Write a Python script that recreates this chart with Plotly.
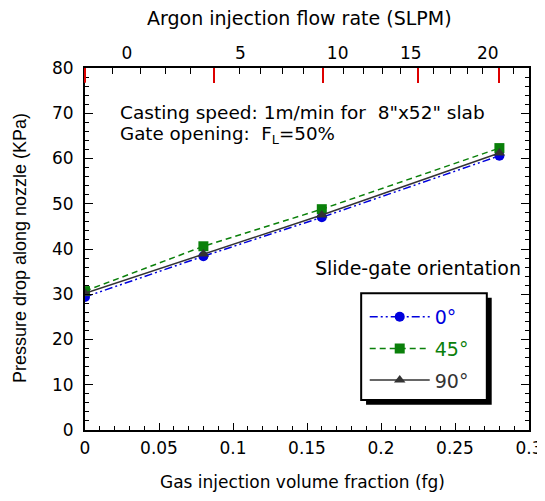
import plotly.graph_objects as go

# ---- data ----
fg = [0.0, 0.08, 0.16, 0.28]
p_0deg = [29.4, 38.4, 47.0, 60.6]
p_45deg = [30.7, 40.6, 48.8, 62.3]
p_90deg = [30.2, 38.9, 47.5, 61.2]
series_names = ["0°", "45°", "90°"]

# top axis (argon flow rate, SLPM) label positions on fg scale
flow_labels = ["0", "5", "10", "15", "20"]
flow_label_pos = [0.0284, 0.105, 0.1707, 0.2201, 0.2722]
flow_red_ticks = [0.0, 0.0874, 0.1605, 0.2248, 0.2797]
flow_minor_ticks = [0.0183, 0.0372, 0.0542, 0.0711, 0.1043, 0.1185, 0.1334, 0.1476,
                    0.1747, 0.1883, 0.2011, 0.2133, 0.2357, 0.2472, 0.2587, 0.2688, 0.2898]

FONT = "DejaVu Sans, Liberation Sans, Arial, sans-serif"
FONT_V = "Liberation Sans, Arial, Helvetica, sans-serif"
BLUE = "#0000dd"
GREEN = "#0a800a"
DARK = "#333333"
RED = "#dd0000"

fig = go.Figure()
fig.add_trace(go.Scatter(
    x=fg, y=p_0deg, mode="lines+markers",
    name=f"<span style='color:{BLUE}'>{series_names[0]}</span>",
    legendgroup="a",
    line=dict(color=BLUE, width=1.5, dash="8px,3px,2px,3px,2px,3px"),
    marker=dict(symbol="circle", size=10, color=BLUE)))
fig.add_trace(go.Scatter(
    x=fg, y=p_45deg, mode="lines+markers",
    name=f"<span style='color:{GREEN}'>{series_names[1]}</span>",
    legendgroup="b",
    line=dict(color=GREEN, width=1.5, dash="6px,4px"),
    marker=dict(symbol="square", size=10, color=GREEN)))
fig.add_trace(go.Scatter(
    x=fg, y=p_90deg, mode="lines+markers",
    name=f"<span style='color:{DARK}'>{series_names[2]}</span>",
    legendgroup="c",
    line=dict(color=DARK, width=1.5),
    marker=dict(symbol="triangle-up", size=10, color=DARK)))

# invisible traces to anchor the overlay top axes
for ax in ["x2", "x3", "x4"]:
    fig.add_trace(go.Scatter(x=[0, 0.3], y=[None, None], xaxis=ax, showlegend=False,
                             hoverinfo="skip"))

# the page body has an 8px margin, so the figure is offset by 8px
fig.update_layout(
    width=537, height=493,
    margin=dict(l=77, r=16, t=60, b=71, autoexpand=False),
    paper_bgcolor="white", plot_bgcolor="white",
    font=dict(family=FONT, size=17, color="black"),
    showlegend=True,
    legend=dict(x=0.63, y=0.365, xanchor="left", yanchor="top",
                bgcolor="rgba(0,0,0,0)", borderwidth=0,
                font=dict(size=19, family=FONT),
                traceorder="grouped", tracegroupgap=4, itemwidth=60),
    xaxis=dict(range=[0, 0.3], dtick=0.05, tick0=0, ticks="inside", ticklen=7,
               tickwidth=1.2, tickcolor="black", showgrid=False, zeroline=False,
               showline=True, linecolor="black", linewidth=2, automargin=False,
               minor=dict(dtick=0.01, ticks="inside", ticklen=4, tickcolor="black"),
               tickfont=dict(size=17), ticklabelstandoff=2),
    yaxis=dict(range=[0, 80], dtick=10, ticks="inside", ticklen=8, tickwidth=1.2,
               tickcolor="black", showgrid=False, zeroline=False, automargin=False,
               showline=True, linecolor="black", linewidth=2, mirror="ticks",
               minor=dict(dtick=2, ticks="inside", ticklen=4, tickcolor="black"),
               tickfont=dict(size=17), ticklabelstandoff=6),
    xaxis2=dict(overlaying="x", side="top", range=[0, 0.3], tickmode="array",
                tickvals=flow_label_pos, ticktext=flow_labels, ticks="",
                showgrid=False, zeroline=False, showline=True, linecolor="black",
                linewidth=2, tickfont=dict(size=17), automargin=False,
                ticklabelstandoff=0),
    xaxis3=dict(overlaying="x", side="top", range=[0, 0.3], tickmode="array",
                tickvals=flow_minor_ticks, ticks="inside", ticklen=6, tickcolor="black",
                tickwidth=1.2, showticklabels=False, showgrid=False, zeroline=False,
                showline=False, automargin=False),
    xaxis4=dict(overlaying="x", side="top", range=[0, 0.3], tickmode="array",
                tickvals=flow_red_ticks, ticks="inside", ticklen=15, tickcolor=RED,
                tickwidth=1.5, showticklabels=False, showgrid=False, zeroline=False,
                showline=False, automargin=False),
)

# legend frame with drop shadow (paper coordinates)
fig.add_shape(type="rect", xref="paper", yref="paper", x0=0.633, x1=0.916, y0=0.070,
              y1=0.365, fillcolor="black", line=dict(width=0), layer="below")
fig.add_shape(type="rect", xref="paper", yref="paper", x0=0.622, x1=0.905, y0=0.083,
              y1=0.378, fillcolor="white", line=dict(color="black", width=2), layer="below")
# red corner tick at the top-left (drawn over the y-axis line)
fig.add_shape(type="line", xref="paper", yref="paper", x0=0, x1=0, y0=1, y1=0.959,
              line=dict(color=RED, width=2), layer="above")

# axis titles
fig.add_annotation(xref="paper", yref="paper", x=0.484, y=1.138, showarrow=False,
                   xanchor="center", yanchor="middle",
                   text="Argon injection flow rate (SLPM)", font=dict(size=19))
fig.add_annotation(xref="paper", yref="paper", x=0.489, y=-0.144, showarrow=False,
                   xanchor="center", yanchor="middle",
                   text="Gas injection volume fraction (fg)", font=dict(size=17))
fig.add_annotation(xref="paper", yref="paper", x=-0.146, y=0.503, showarrow=False,
                   xanchor="center", yanchor="middle", textangle=-90,
                   text="Pressure drop along nozzle (KPa)", font=dict(size=18, family=FONT_V))

fig.add_annotation(xref="paper", yref="paper", x=0.074, y=0.876, xanchor="left",
                   yanchor="middle", showarrow=False, align="left",
                   text="Casting speed: 1m/min for  8\"x52\" slab", font=dict(size=18.5))
fig.add_annotation(xref="paper", yref="paper", x=0.074, y=0.815, xanchor="left",
                   yanchor="middle", showarrow=False, align="left",
                   text="Gate opening:  F<sub>L</sub>=50%", font=dict(size=18.3))
fig.add_annotation(xref="paper", yref="paper", x=0.986, y=0.4475, xanchor="right",
                   yanchor="middle", showarrow=False,
                   text="Slide-gate orientation", font=dict(size=19))

fig.write_html("out.html")
